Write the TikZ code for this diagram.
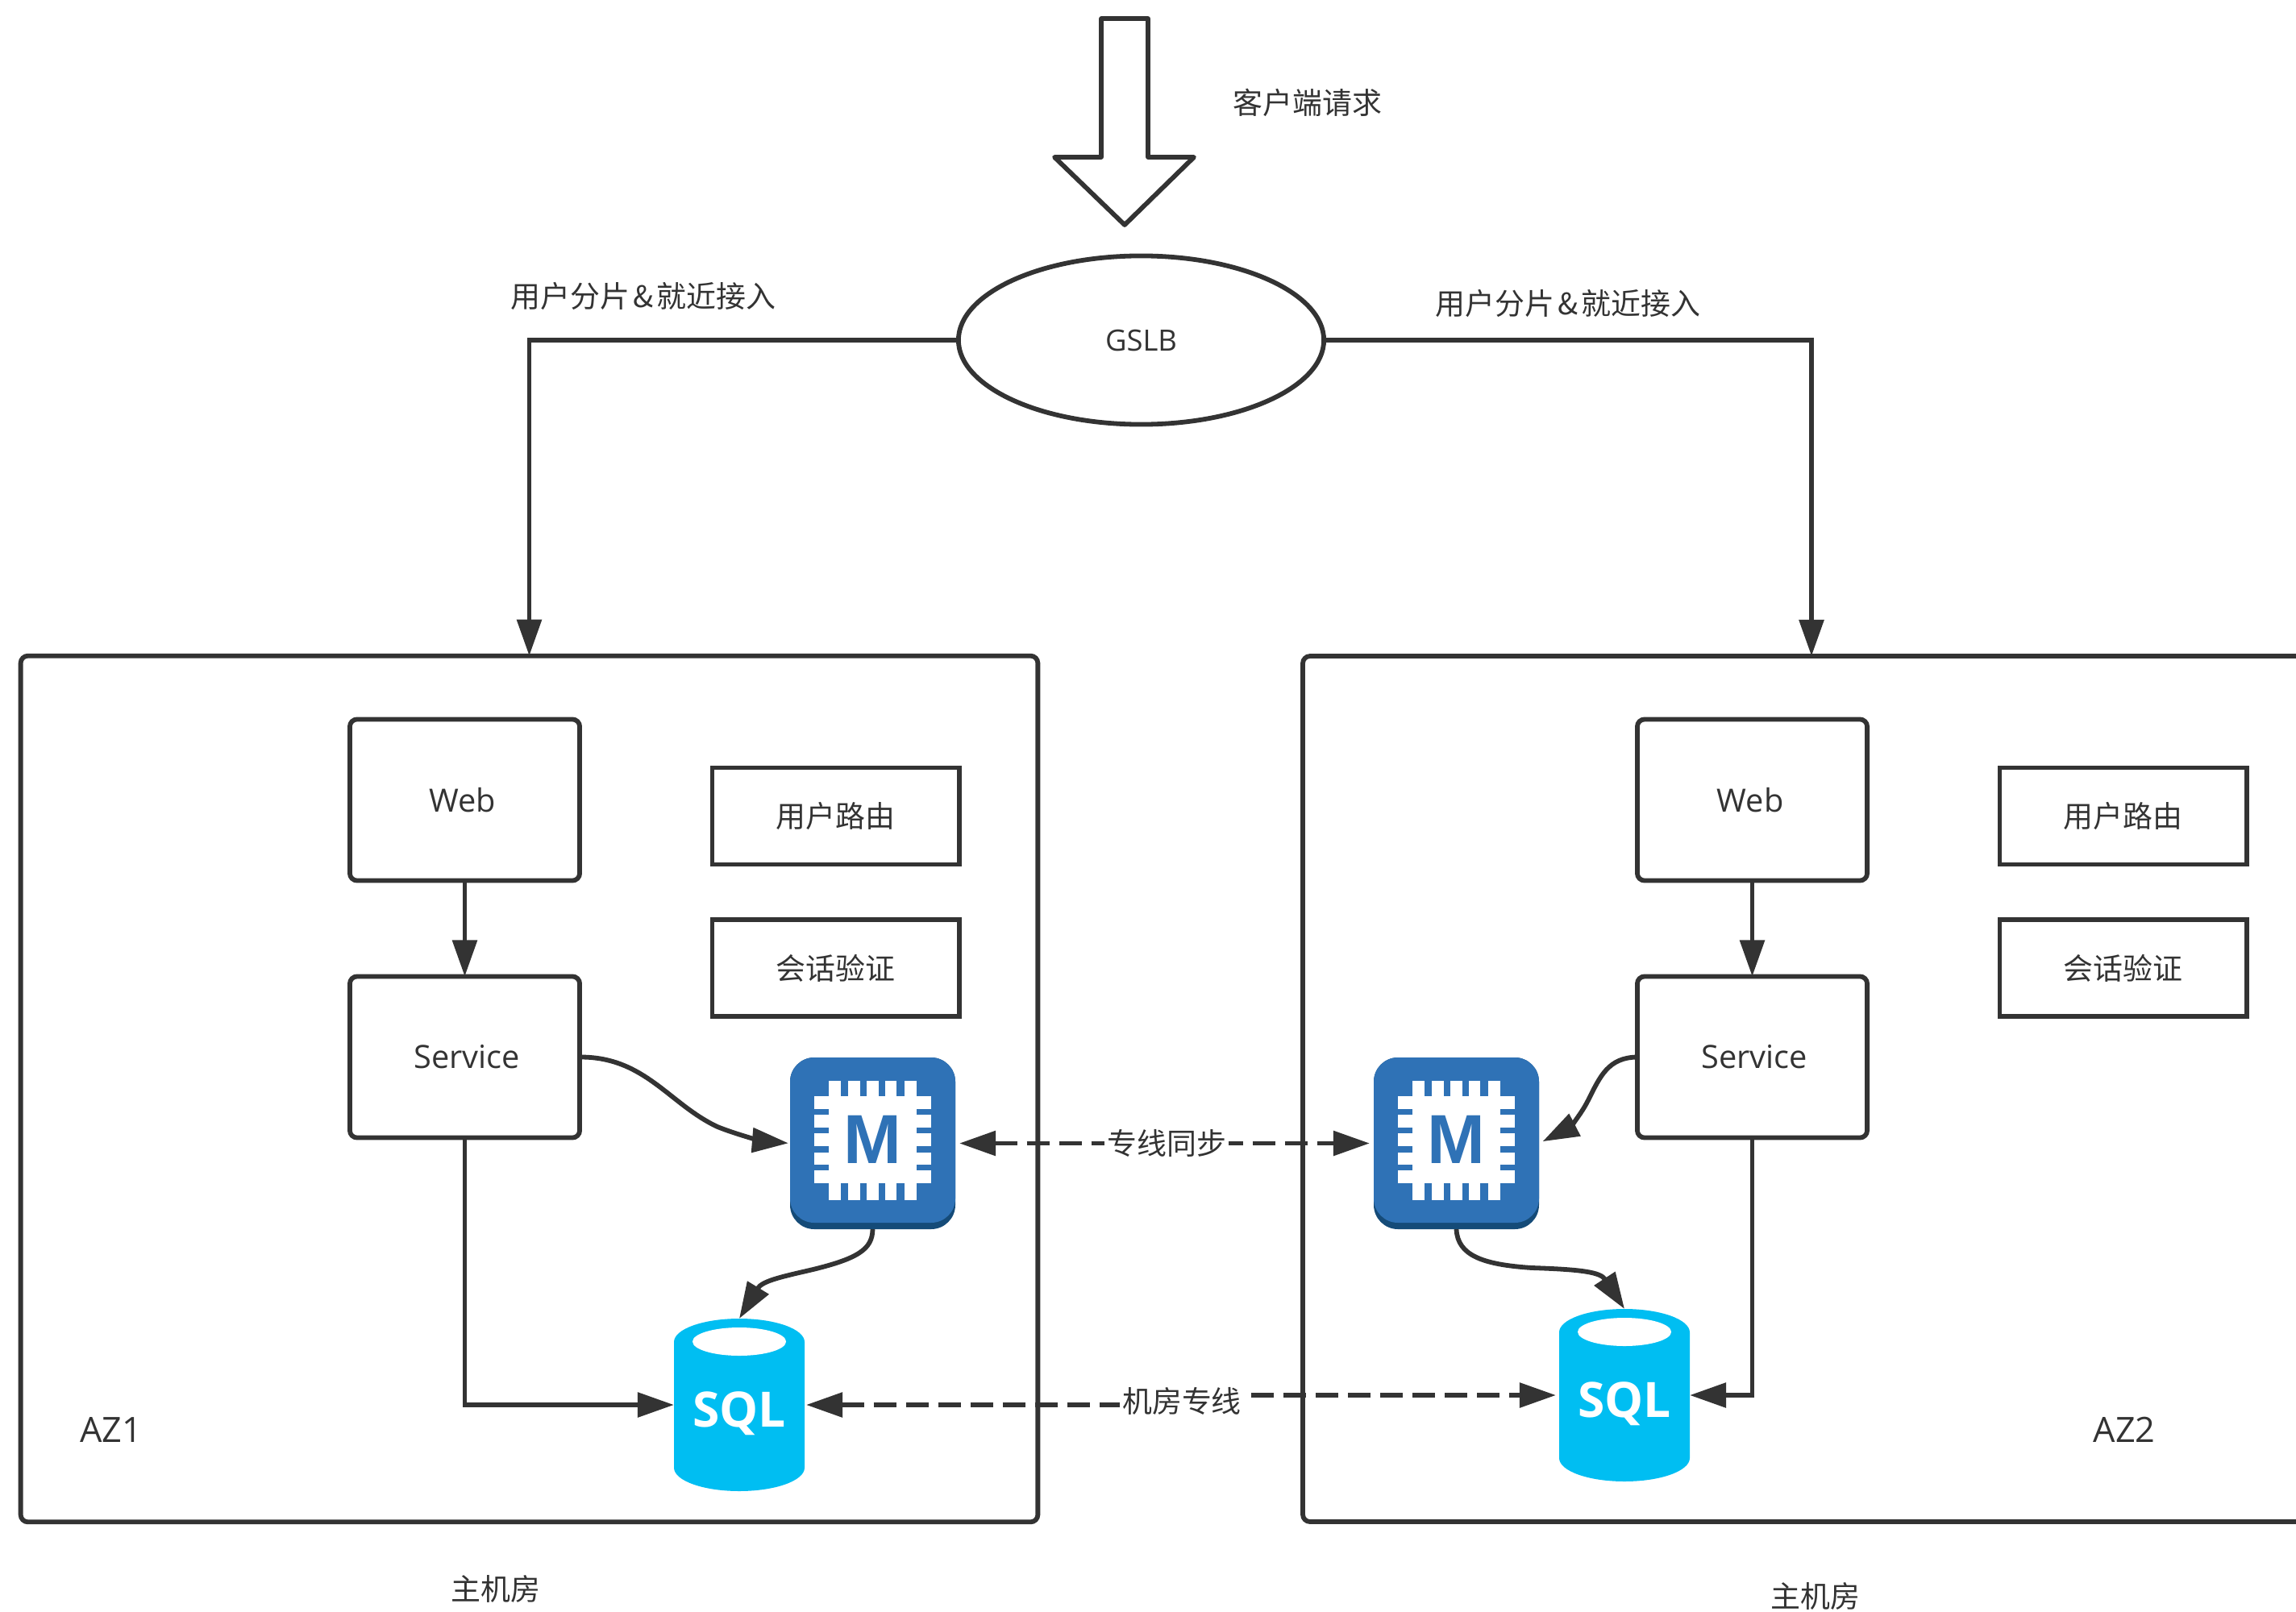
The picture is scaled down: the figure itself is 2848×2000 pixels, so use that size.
\documentclass[tikz,border=0pt]{standalone}
\usepackage{fontspec}
\setmainfont{Open Sans}
\newfontfamily\cjk{Noto Sans CJK SC}
\newfontfamily\chipfont{Liberation Sans}
\usetikzlibrary{arrows.meta,shapes.geometric}
\definecolor{ink}{HTML}{333333}
\definecolor{chipblue}{HTML}{2F72B6}
\definecolor{chipdark}{HTML}{154B78}
\definecolor{sqlblue}{HTML}{00BEF2}
\tikzset{
  >={Triangle[length=0.45cm,width=0.30cm]},
  line/.style={draw=ink,line width=0.058cm},
  wire/.style={line,->},
  dashwire/.style={line,<->,dash pattern=on 0.28cm off 0.12cm},
  lbl/.style={text=ink,inner sep=0pt,outer sep=0pt,font=\fontsize{10.35pt}{12pt}\selectfont},
  biglbl/.style={lbl,font=\fontsize{11.3pt}{13pt}\selectfont},
  azlbl/.style={lbl,font=\fontsize{12.3pt}{14pt}\selectfont},
  clbl/.style={lbl,font=\fontsize{10.5pt}{12pt}\selectfont\cjk},
  cutlbl/.style={clbl,fill=white,inner xsep=1pt,inner ysep=2pt},
  zone/.style={line,rectangle,rounded corners=0.09cm,outer sep=0pt,inner sep=0pt,minimum width=12.61cm,minimum height=10.74cm},
  appbox/.style={line,rectangle,rounded corners=0.09cm,outer sep=0pt,inner sep=0pt,minimum width=2.85cm,minimum height=2cm,biglbl},
  plainbox/.style={line,rectangle,outer sep=0pt,inner sep=0pt,minimum width=3.06cm,minimum height=1.20cm,clbl},
  balancer/.style={line,ellipse,outer sep=0pt,inner sep=0pt,minimum width=4.53cm,minimum height=2.09cm,lbl},
  chipanchor/.style={rectangle,outer sep=0pt,inner sep=0pt,minimum width=2.05cm,minimum height=2.13cm},
  sqlanchor/.style={rectangle,outer sep=0pt,inner sep=0pt,minimum width=1.62cm,minimum height=2.14cm}
}
\newcommand{\memicon}[2]{%
  \begin{scope}[shift={(#2)}]
    \fill[chipdark,rounded corners=0.30cm] (-102.5,-106.5) rectangle (102.5,106.5);
    \fill[chipblue,rounded corners=0.30cm] (-102.5,-106.5) rectangle (102.5,98.5);
    \fill[white] (-54.5,-58.5) rectangle (54.5,49.5);
    \foreach \a/\b in {-54.5/-39.5,-30.5/-15.5,-7.5/7.5,15.5/29.5,39.5/54.5}{
      \fill[white] (\a,-77.5) rectangle (\b,70.5);}
    \foreach \a/\b in {-58.5/-42.5,-35.5/-19.5,-12.5/3.5,11.5/26.5,33.5/49.5}{
      \fill[white] (-72.5,\a) rectangle (72.5,\b);}
    \node[chipanchor] (#1) at (0,0) {};
    \node[inner sep=0pt,text=chipblue,font=\fontsize{24.5pt}{26pt}\selectfont\chipfont\bfseries] (#1text) at (0,-4.5) {M};
  \end{scope}}
\newcommand{\sqlicon}[2]{%
  \begin{scope}[shift={(#2)}]
    \fill[sqlblue] (-81,-78) arc[start angle=180,end angle=360,x radius=81,y radius=29]
      -- (81,78) arc[start angle=0,end angle=180,x radius=81,y radius=29] -- cycle;
    \fill[white] (0,-78.5) ellipse[x radius=58,y radius=17.5];
    \node[sqlanchor] (#1) at (0,0) {};
    \node[anchor=base,inner sep=0pt,text=white,font=\fontsize{17.2pt}{19pt}\selectfont\bfseries] (#1text) at (0,27) {SQL};
  \end{scope}}
\begin{document}
\begin{tikzpicture}[x=0.01cm,y=-0.01cm]
\useasboundingbox (0,0) rectangle (2848,2000);
% request arrow
\draw[line,line join=round] (1366,23) -- (1424,23) -- (1424,195) -- (1481,195) -- (1395,279) -- (1308,195) -- (1366,195) -- cycle;
\node[clbl] (reqlabel) at (1622,127) {客户端请求};
% balancer
\node[balancer] (gslb) at (1415.5,422) {GSLB};
\node[clbl] (shardL) at (798,367) {用户分片\hspace{1.2pt}\&\hspace{1.2pt}就近接入};
\node[clbl] (shardR) at (1945,376) {用户分片\hspace{1.2pt}\&\hspace{1.2pt}就近接入};
% zones
\node[zone] (azL) at (656.5,1351) {};
\draw[line,rounded corners=0.09cm] (2848,814) -- (1616,814) -- (1616,1888) -- (2848,1888);
\coordinate (azRtop) at (2247,814);
% left zone
\node[appbox] (webL) at (576.5,992.5) {};
\node[biglbl] (webLt) at (574,993) {Web};
\node[appbox] (svcL) at (576.5,1311.5) {};
\node[biglbl] (svcLt) at (579,1311) {Service};
\node[plainbox] (routeL) at (1036.5,1012.5) {用户路由};
\node[plainbox] (authL) at (1036.5,1201) {会话验证};
\memicon{memL}{1082.5,1418.5}
\sqlicon{sqlL}{917,1743}
\node[azlbl] (azLlabel) at (138,1774) {AZ1};
\node[clbl] (roomL) at (615,1971) {主机房};
% right zone
\node[appbox] (webR) at (2173.5,992.5) {};
\node[biglbl] (webRt) at (2171,993) {Web};
\node[appbox] (svcR) at (2173.5,1311.5) {};
\node[biglbl] (svcRt) at (2176,1311) {Service};
\node[plainbox] (routeR) at (2633.5,1012.5) {用户路由};
\node[plainbox] (authR) at (2633.5,1201) {会话验证};
\memicon{memR}{1806.5,1418.5}
\sqlicon{sqlR}{2015,1731}
\node[azlbl] (azRlabel) at (2635,1774) {AZ2};
\node[clbl] (roomR) at (2252,1980) {主机房};
% connectors
\draw[wire] (gslb.west) -| (azL.north);
\draw[wire] (gslb.east) -| (azRtop);
\draw[wire] (webL) -- (svcL);
\draw[wire] (webR) -- (svcR);
\draw[wire,shorten >=0.02cm] (svcL.east) .. controls (800,1311) and (830,1370) .. (890,1398) .. controls (920,1410) and (950,1416) .. (memL.west);
\draw[wire,shorten >=0.05cm] (svcR.west) .. controls (1995,1312) and (1985,1335) .. (1970,1365) .. controls (1960,1385) and (1945,1400) .. (memR.east);
\draw[wire] (svcL.south) |- (sqlL.west);
\draw[wire] (svcR.south) |- (sqlR.east);
\draw[wire] (memL.south) .. controls (1082,1550) and (1065,1562) .. (1000,1577) .. controls (965,1585) and (945,1590) .. (sqlL.north);
\draw[wire] (memR.south) .. controls (1808,1558) and (1840,1569) .. (1900,1573) .. controls (1960,1575) and (1985,1578) .. (sqlR.north);
\draw[dashwire,shorten <=0.05cm,shorten >=0.05cm] (memL.east) -- (memR.west) node[cutlbl,pos=0.505] (synclabel) {专线同步};
\draw[dashwire,shorten <=0.02cm,shorten >=0.04cm] (sqlL.east) -- (1466,1743) -- (1466,1731) -- (sqlR.west);
\node[cutlbl] (linklabel) at (1466,1738) {机房专线};
\end{tikzpicture}
\end{document}
